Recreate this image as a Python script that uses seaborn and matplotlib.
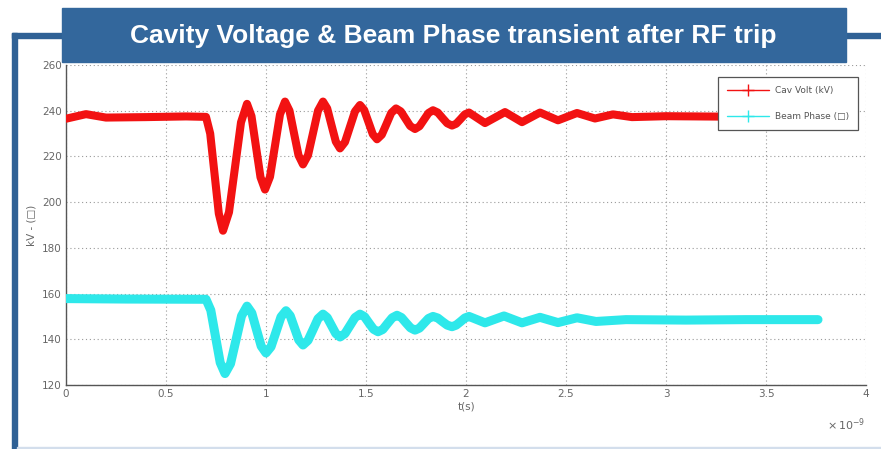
import matplotlib
matplotlib.use("Agg")
import matplotlib.pyplot as plt
from matplotlib.patches import Rectangle
from matplotlib.lines import Line2D
import seaborn as sns
import pandas as pd

# ---- data (time in units of 1e-9 s) ----
cav_t = [0.0, 0.1, 0.2, 0.4, 0.6, 0.70,
         0.721, 0.7425, 0.764, 0.785,
         0.815, 0.845, 0.875, 0.905,
         0.9275, 0.95, 0.9725, 0.995,
         1.02, 1.045, 1.07, 1.095,
         1.1175, 1.14, 1.1625, 1.185,
         1.21, 1.235, 1.26, 1.285,
         1.306, 1.3275, 1.349, 1.37,
         1.395, 1.42, 1.445, 1.47,
         1.491, 1.5125, 1.534, 1.555,
         1.579, 1.6025, 1.626, 1.65,
         1.674, 1.6975, 1.721, 1.745,
         1.7675, 1.79, 1.8125, 1.835,
         1.859, 1.8825, 1.906, 1.93,
         1.951, 1.9725, 1.994, 2.015,
         2.095, 2.195, 2.28, 2.37, 2.46, 2.555, 2.645, 2.735, 2.83,
         3.0, 3.3, 3.76]
cav_v = [236.5, 238.5, 237.0, 237.2, 237.5, 237.3,
         230.0, 212.5, 195.0, 187.5,
         195.6, 215.2, 234.9, 243.0,
         237.6, 224.2, 210.9, 205.5,
         211.1, 224.7, 238.4, 244.0,
         240.0, 230.2, 220.5, 216.5,
         220.5, 230.2, 240.0, 244.0,
         241.0, 233.7, 226.5, 223.5,
         226.3, 233.0, 239.7, 242.5,
         240.3, 235.0, 229.7, 227.5,
         229.5, 234.2, 239.0, 241.0,
         239.7, 236.5, 233.3, 232.0,
         233.2, 236.1, 239.0, 240.2,
         239.2, 236.8, 234.5, 233.5,
         234.3, 236.3, 238.4, 239.2,
         234.6, 239.4, 235.0, 239.2, 235.8, 239.0, 236.6, 238.4, 237.2,
         237.6, 237.4, 237.6]

beam_t = [0.0, 0.3, 0.70,
          0.724, 0.7475, 0.771, 0.795,
          0.8225, 0.85, 0.8775, 0.905,
          0.929, 0.9525, 0.976, 1.0,
          1.025, 1.05, 1.075, 1.1,
          1.121, 1.1425, 1.164, 1.185,
          1.21, 1.235, 1.26, 1.285,
          1.306, 1.3275, 1.349, 1.37,
          1.395, 1.42, 1.445, 1.47,
          1.4925, 1.515, 1.5375, 1.56,
          1.584, 1.6075, 1.631, 1.655,
          1.6775, 1.70, 1.7225, 1.745,
          1.7675, 1.79, 1.8125, 1.835,
          1.859, 1.8825, 1.906, 1.93,
          1.951, 1.9725, 1.994, 2.015,
          2.095, 2.19, 2.28, 2.37, 2.46, 2.555, 2.65, 2.8, 3.1, 3.4, 3.76]
beam_v = [157.8, 157.6, 157.5,
          152.7, 141.2, 129.8, 125.0,
          129.3, 139.7, 150.2, 154.5,
          151.5, 144.2, 137.0, 134.0,
          136.7, 143.2, 149.8, 152.5,
          150.3, 145.0, 139.7, 137.5,
          139.5, 144.2, 149.0, 151.0,
          149.5, 146.0, 142.5, 141.0,
          142.5, 146.0, 149.5, 151.0,
          149.9, 147.1, 144.4, 143.3,
          144.3, 146.9, 149.4, 150.5,
          149.5, 147.2, 145.0, 144.0,
          144.9, 147.0, 149.1, 150.0,
          149.3, 147.7, 146.2, 145.5,
          146.2, 147.7, 149.3, 150.0,
          147.2, 150.2, 147.2, 149.6, 147.3, 149.4, 147.8, 148.6, 148.4, 148.6, 148.6]

x_ticks = [0, 0.5, 1, 1.5, 2, 2.5, 3, 3.5, 4]
y_ticks = [120, 140, 160, 180, 200, 220, 240, 260]
title = "Cavity Voltage & Beam Phase transient after RF trip"
labels = ["Cav Volt (kV)", "Beam Phase (\u25a1)"]

RED = "#F21212"
CYAN = "#2EE8EA"
GRAY = "#666666"

sns.set_style("white")
plt.rcParams["font.family"] = ["DejaVu Sans"]

W, H = 881, 449
fig = plt.figure(figsize=(W / 100, H / 100), dpi=100)
fig.patch.set_facecolor("white")

ax = fig.add_axes([66 / W, 1 - 385 / H, 800 / W, 320 / H])

df_cav = pd.DataFrame({"t": cav_t, "v": cav_v})
df_beam = pd.DataFrame({"t": beam_t, "v": beam_v})
sns.lineplot(data=df_cav, x="t", y="v", ax=ax, color=RED, lw=5.8, sort=False,
             solid_joinstyle="round", solid_capstyle="round", zorder=3)
sns.lineplot(data=df_beam, x="t", y="v", ax=ax, color=CYAN, lw=6.5, sort=False,
             solid_joinstyle="round", solid_capstyle="round", zorder=3)

ax.set_xlim(0, 4)
ax.set_ylim(120, 260)
ax.set_xticks(x_ticks)
ax.set_yticks(y_ticks)
ax.set_xticklabels(["%g" % v for v in x_ticks])
ax.set_yticklabels(["%g" % v for v in y_ticks])
ax.tick_params(direction="in", length=4, width=0.8, colors="#555555",
               labelcolor=GRAY, labelsize=7.5, pad=3)
ax.grid(True, linestyle=(0, (1, 2.5)), color="#9a9a9a", lw=0.8)
for s in ["top", "right"]:
    ax.spines[s].set_visible(False)
for s in ["left", "bottom"]:
    ax.spines[s].set_color("#555555")
    ax.spines[s].set_linewidth(1.0)
ax.set_xlabel("t(s)", fontsize=7.5, color=GRAY, labelpad=2)
ax.set_ylabel("kV - (\u25a1)", fontsize=7.5, color=GRAY, labelpad=4)
ax.text(846 / W, 1 - 425 / H, r"$\times\,10^{-9}$", transform=fig.transFigure,
        fontsize=8, color=GRAY, ha="center", va="center")

handles = [Line2D([], [], color=RED, lw=1.0, marker="+", markersize=8),
           Line2D([], [], color=CYAN, lw=1.0, marker="+", markersize=8)]
leg = ax.legend(handles, labels, loc="upper right",
                bbox_to_anchor=(0.99, 0.9625), borderaxespad=0.0, fontsize=6.5,
                frameon=True, fancybox=False, framealpha=1.0, facecolor="white",
                edgecolor="#555555", handlelength=4.6,
                borderpad=1.0, labelspacing=1.9, handletextpad=0.7)
leg.get_frame().set_linewidth(0.9)
leg.set_zorder(10)
for t in leg.get_texts():
    t.set_color("#555555")

# blue frame decoration
BLUE = "#2F6195"
fig.patches.append(Rectangle((12 / W, 0), 5 / W, 1 - 33 / H, transform=fig.transFigure,
                             color=BLUE, zorder=0))
fig.patches.append(Rectangle((12 / W, 1 - 38 / H), 60 / W, 5 / H, transform=fig.transFigure,
                             color=BLUE, zorder=0))
fig.patches.append(Rectangle((840 / W, 1 - 38 / H), 41 / W, 5 / H, transform=fig.transFigure,
                             color=BLUE, zorder=0))
fig.patches.append(Rectangle((17 / W, 0), 864 / W, 2 / H, transform=fig.transFigure,
                             color="#D3DEEC", zorder=0))
# title box
fig.patches.append(Rectangle((62 / W, 1 - 62 / H), 784 / W, 54 / H, transform=fig.transFigure,
                             color="#33679C", zorder=5))
fig.text(453.5 / W, 1 - 43.5 / H, title, color="white", fontsize=19, fontweight="bold",
         family=["Liberation Sans", "DejaVu Sans"], ha="center", va="baseline", zorder=6)

fig.savefig("out.png", dpi=100)
